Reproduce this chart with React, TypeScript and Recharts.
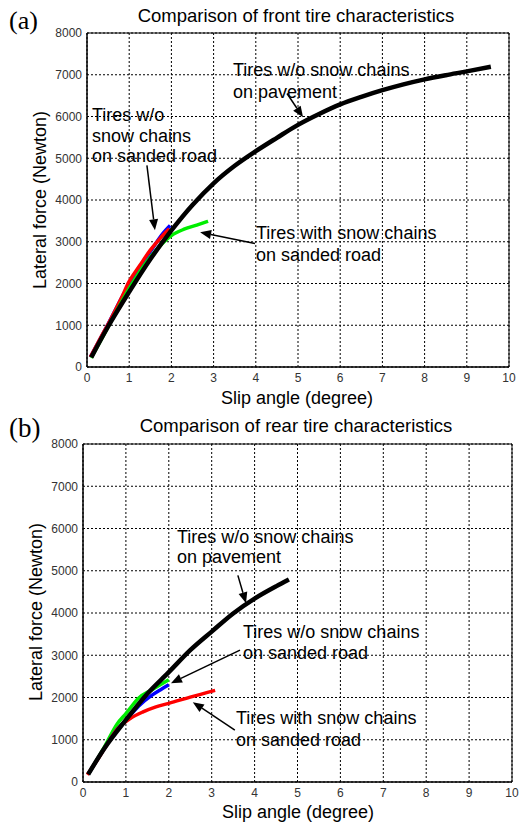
import React from 'react';
import { LineChart, Line, XAxis, YAxis, CartesianGrid, ReferenceArea, ReferenceLine } from 'recharts';

// ---------- data ----------
const slipTicks = [0, 1, 2, 3, 4, 5, 6, 7, 8, 9, 10];
const forceTicks = [0, 1000, 2000, 3000, 4000, 5000, 6000, 7000, 8000];

// (a) front tires
const frontPavementSlip = [0.1, 0.5, 1, 1.5, 2, 2.5, 3, 3.5, 4, 4.5, 5, 5.5, 6, 6.5, 7, 7.5, 8, 8.5, 9, 9.57];
const frontPavementForce = [230, 970, 1800, 2580, 3270, 3880, 4400, 4820, 5170, 5490, 5800, 6060, 6290, 6470, 6630, 6770, 6890, 6990, 7080, 7190];

const frontSandNoChainBlueSlip = [0.08, 0.5, 1.0, 1.5, 1.8, 1.97];
const frontSandNoChainBlueForce = [240, 1030, 1990, 2760, 3200, 3390];

const frontSandNoChainRedSlip = [0.08, 0.3, 0.55, 0.8, 1.0, 1.25, 1.5, 1.75, 1.95];
const frontSandNoChainRedForce = [240, 660, 1120, 1620, 2050, 2430, 2800, 3100, 3310];

const frontSandChainSlip = [0.1, 0.5, 1.0, 1.5, 2.0, 2.3, 2.6, 2.87];
const frontSandChainForce = [220, 960, 1880, 2630, 3150, 3300, 3400, 3490];

// (b) rear tires
const rearPavementSlip = [0.12, 0.5, 1.0, 1.5, 2.0, 2.5, 3.0, 3.5, 4.0, 4.5, 4.8];
const rearPavementForce = [180, 800, 1470, 2090, 2600, 3120, 3560, 3990, 4340, 4630, 4790];

const rearSandGreenSlip = [0.12, 0.5, 0.8, 1.0, 1.3, 1.6, 1.8, 2.0];
const rearSandGreenForce = [180, 830, 1380, 1620, 1990, 2180, 2300, 2420];

const rearSandBlueSlip = [0.12, 0.5, 0.8, 1.0, 1.3, 1.6, 1.8, 2.0];
const rearSandBlueForce = [180, 800, 1250, 1460, 1800, 2050, 2180, 2300];

const rearSandChainSlip = [0.1, 0.3, 0.5, 0.8, 1.1, 1.4, 1.7, 2.0, 2.5, 3.08];
const rearSandChainForce = [170, 470, 790, 1250, 1500, 1660, 1780, 1860, 2010, 2170];

// annotation arrows (data coordinates: from -> to)
const frontArrows = [
  { from: [4.74, 6550], to: [5.12, 5980] },
  { from: [1.42, 4830], to: [1.61, 3275] },
  { from: [3.98, 2960], to: [2.68, 3225] },
];
const rearArrows = [
  { from: [3.61, 4890], to: [3.8, 4230] },
  { from: [3.66, 3120], to: [2.05, 2340] },
  { from: [3.54, 1230], to: [2.56, 1890] },
];

const toPoints = (s: number[], f: number[]) => s.map((x, i) => ({ x, y: f[i] }));

const FONT = '"Liberation Sans", Arial, sans-serif';

const ArrowShape = (props: any) => {
  const { x1, y1, x2, y2 } = props;
  const dx = x2 - x1;
  const dy = y2 - y1;
  const len = Math.sqrt(dx * dx + dy * dy) || 1;
  const ux = dx / len;
  const uy = dy / len;
  const hl = 11;
  const hw = 4.5;
  const bx = x2 - ux * hl;
  const by = y2 - uy * hl;
  const pts = `${x2},${y2} ${bx - uy * hw},${by + ux * hw} ${bx + uy * hw},${by - ux * hw}`;
  return (
    <g>
      <line x1={x1} y1={y1} x2={bx} y2={by} stroke="#000" strokeWidth={1.5} />
      <polygon points={pts} fill="#000" />
    </g>
  );
};

type Series = { data: { x: number; y: number }[]; color: string; width: number };

const TireChart = ({ width, height, margin, series, arrows }: any) => (
  <LineChart width={width} height={height} margin={margin}>
    <CartesianGrid stroke="#000" strokeDasharray="2 2" strokeWidth={1} />
    <XAxis
      type="number"
      dataKey="x"
      domain={[0, 10]}
      ticks={slipTicks}
      allowDataOverflow
      height={30}
      tickLine={false}
      tickSize={3}
      tickMargin={3}
      axisLine={{ stroke: '#000' }}
      tick={{ fill: '#333', fontSize: 12, fontFamily: FONT }}
    />
    <YAxis
      type="number"
      domain={[0, 8000]}
      ticks={forceTicks}
      allowDataOverflow
      width={60}
      tickLine={false}
      tickSize={3}
      tickMargin={2}
      axisLine={{ stroke: '#000' }}
      tick={{ fill: '#333', fontSize: 12, fontFamily: FONT }}
    />
    <ReferenceArea x1={0} x2={10} y1={0} y2={8000} fill="none" stroke="#000" strokeWidth={1} ifOverflow="visible" />
    {series.map((s: Series, i: number) => (
      <Line
        key={i}
        data={s.data}
        dataKey="y"
        type="monotone"
        stroke={s.color}
        strokeWidth={s.width}
        dot={false}
        isAnimationActive={false}
      />
    ))}
    {arrows.map((a: any, i: number) => (
      <ReferenceLine
        key={'a' + i}
        segment={[{ x: a.from[0], y: a.from[1] }, { x: a.to[0], y: a.to[1] }]}
        shape={<ArrowShape />}
        ifOverflow="visible"
      />
    ))}
  </LineChart>
);

const frontSeries: Series[] = [
  { data: toPoints(frontSandNoChainBlueSlip, frontSandNoChainBlueForce), color: '#0000ff', width: 3.5 },
  { data: toPoints(frontSandNoChainRedSlip, frontSandNoChainRedForce), color: '#ff0000', width: 3.5 },
  { data: toPoints(frontSandChainSlip, frontSandChainForce), color: '#00ee00', width: 3.5 },
  { data: toPoints(frontPavementSlip, frontPavementForce), color: '#000000', width: 4.5 },
];

const rearSeries: Series[] = [
  { data: toPoints(rearSandGreenSlip, rearSandGreenForce), color: '#00ee00', width: 3.5 },
  { data: toPoints(rearSandBlueSlip, rearSandBlueForce), color: '#0000ff', width: 3.5 },
  { data: toPoints(rearSandChainSlip, rearSandChainForce), color: '#ff0000', width: 3.5 },
  { data: toPoints(rearPavementSlip, rearPavementForce), color: '#000000', width: 4.5 },
];

const T = ({ x, y, children, anchor = 'start', size = 18 }: any) => (
  <text x={x} y={y} fontFamily={FONT} fontSize={size} fill="#000" textAnchor={anchor}>
    {children}
  </text>
);

export default function App() {
  return (
    <div style={{ position: 'absolute', left: 0, top: 0, width: 519, height: 823, background: '#fff', overflow: 'hidden' }}>
      <div style={{ position: 'absolute', left: 0, top: 0 }}>
        <TireChart
          width={519}
          height={410}
          margin={{ top: 33, right: 10, left: 27, bottom: 13 }}
          series={frontSeries}
          arrows={frontArrows}
        />
      </div>
      <div style={{ position: 'absolute', left: 0, top: 410 }}>
        <TireChart
          width={519}
          height={413}
          margin={{ top: 34, right: 7, left: 23, bottom: 11 }}
          series={rearSeries}
          arrows={rearArrows}
        />
      </div>
      <svg width={519} height={823} style={{ position: 'absolute', left: 0, top: 0, pointerEvents: 'none' }}>
        <text x={9} y={29} fontFamily='"Liberation Serif", "Times New Roman", serif' fontSize={26} fill="#000">(a)</text>
        <text x={9} y={437} fontFamily='"Liberation Serif", "Times New Roman", serif' fontSize={27} fill="#000">(b)</text>

        <T x={296} y={22} anchor="middle" size={18.5}>Comparison of front tire characteristics</T>
        <T x={296} y={432} anchor="middle" size={18.5}>Comparison of rear tire characteristics</T>

        <T x={297} y={404} anchor="middle">Slip angle (degree)</T>
        <T x={298} y={818} anchor="middle">Slip angle (degree)</T>

        <g transform="translate(46,200) rotate(-90)">
          <T x={0} y={0} anchor="middle">Lateral force (Newton)</T>
        </g>
        <g transform="translate(42,612) rotate(-90)">
          <T x={0} y={0} anchor="middle">Lateral force (Newton)</T>
        </g>

        <T x={233} y={76}>Tires w/o snow chains</T>
        <T x={233} y={98}>on pavement</T>

        <T x={92} y={121}>Tires w/o</T>
        <T x={92} y={142}>snow chains</T>
        <T x={92} y={162}>on sanded road</T>

        <T x={256} y={239}>Tires with snow chains</T>
        <T x={256} y={261}>on sanded road</T>

        <T x={177} y={543}>Tires w/o snow chains</T>
        <T x={177} y={563}>on pavement</T>

        <T x={243} y={638}>Tires w/o snow chains</T>
        <T x={243} y={659}>on sanded road</T>

        <T x={236} y={724}>Tires with snow chains</T>
        <T x={236} y={746}>on sanded road</T>
      </svg>
    </div>
  );
}
